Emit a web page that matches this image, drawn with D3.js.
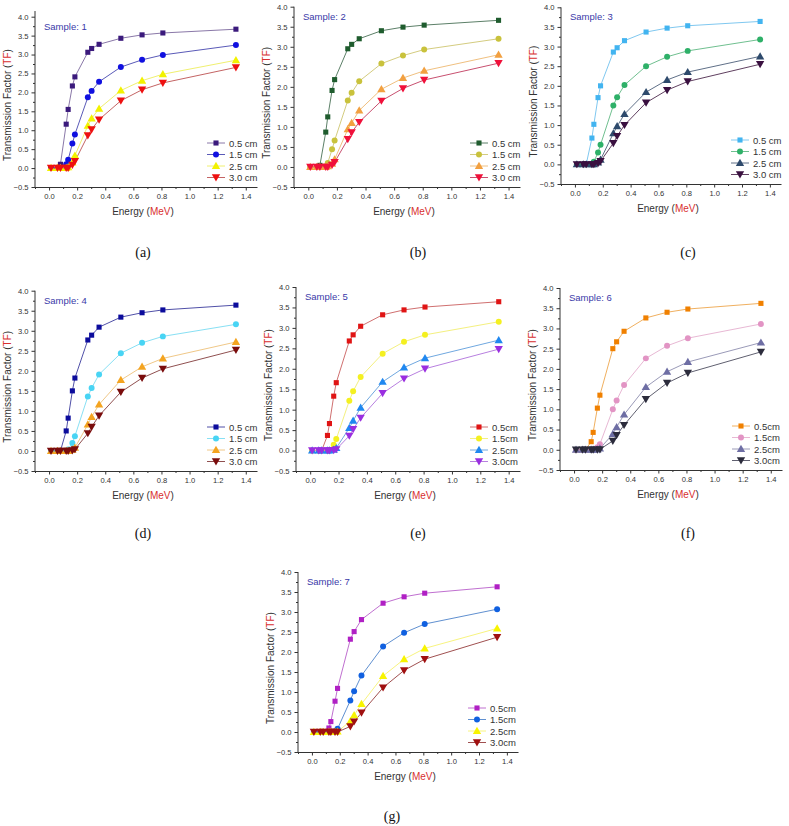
<!DOCTYPE html>
<html>
<head>
<meta charset="utf-8">
<script src="https://cdn.jsdelivr.net/npm/d3@7"></script>
<style>
html,body{margin:0;padding:0;background:#fff;}
svg{display:block;}
</style>
</head>
<body>
<svg id="chart" width="789" height="826"></svg>
<script>
// ---------- DATA ----------
const energies = [0.014, 0.06, 0.081, 0.122, 0.136, 0.166, 0.184, 0.276, 0.303, 0.356, 0.511, 0.662, 0.81, 1.33];
const xTicks = [0.0, 0.2, 0.4, 0.6, 0.8, 1.0, 1.2, 1.4];
const yTicks = [-0.5, 0.0, 0.5, 1.0, 1.5, 2.0, 2.5, 3.0, 3.5, 4.0];
const sampleNames = ["Sample: 1","Sample: 2","Sample: 3","Sample: 4","Sample: 5","Sample: 6","Sample: 7"];
const captions = ["(a)","(b)","(c)","(d)","(e)","(f)","(g)"];
const legendSpaced = ["0.5 cm","1.5 cm","2.5 cm","3.0 cm"];
const legendTight = ["0.5cm","1.5cm","2.5cm","3.0cm"];

const s1_05 = [0,0,0.10,1.16,1.55,2.17,2.41,3.06,3.16,3.27,3.43,3.52,3.57,3.67];
const s1_15 = [0,0,0,0.10,0.22,0.65,0.89,1.87,2.04,2.28,2.67,2.86,2.99,3.25];
const s1_25 = [0,0,0,0,0.02,0.15,0.33,1.12,1.31,1.57,2.05,2.31,2.48,2.85];
const s1_30 = [0,0,0,0,0,0.08,0.18,0.86,1.02,1.28,1.78,2.07,2.25,2.66];

const s2_05 = [0,0,0.04,0.87,1.25,1.91,2.18,2.95,3.06,3.20,3.40,3.49,3.54,3.66];
const s2_15 = [0,0,0,0.02,0.10,0.44,0.66,1.66,1.85,2.14,2.58,2.78,2.93,3.20];
const s2_25 = [0,0,0,0,0.02,0.08,0.19,0.94,1.10,1.41,1.94,2.22,2.40,2.80];
const s2_30 = [0,0,0,0,0,0.05,0.12,0.69,0.86,1.12,1.65,1.96,2.17,2.59];

const s3_05 = [0,0,0,0.67,1.02,1.70,2.00,2.86,2.97,3.15,3.37,3.47,3.53,3.64];
const s3_15 = [0,0,0,0,0.07,0.30,0.50,1.50,1.71,2.02,2.50,2.74,2.89,3.18];
const s3_25 = [0,0,0,0,0,0.05,0.12,0.79,0.97,1.28,1.84,2.15,2.35,2.75];
const s3_30 = [0,0,0,0,0,0.03,0.08,0.54,0.72,1.00,1.57,1.89,2.11,2.55];

const s4_05 = [0,0,0,0.50,0.82,1.50,1.82,2.77,2.89,3.09,3.34,3.45,3.52,3.64];
const s4_15 = [0,0,0,0,0.04,0.20,0.37,1.36,1.57,1.91,2.44,2.70,2.86,3.16];
const s4_25 = [0,0,0,0,0,0.03,0.08,0.66,0.85,1.16,1.77,2.10,2.31,2.72];
const s4_30 = [0,0,0,0,0,0.01,0.04,0.44,0.60,0.88,1.47,1.82,2.05,2.52];

const s5_05 = [0,0,0,0.37,0.66,1.33,1.66,2.68,2.83,3.04,3.32,3.44,3.51,3.64];
const s5_15 = [0,0,0,0,0.02,0.14,0.28,1.22,1.45,1.80,2.37,2.66,2.83,3.15];
const s5_25 = [0,0,0,0,0,0.02,0.06,0.55,0.73,1.05,1.68,2.03,2.26,2.70];
const s5_30 = [0,0,0,0,0,0.01,0.03,0.36,0.52,0.80,1.40,1.76,2.00,2.48];

const s6_05 = [0,0,0,0.20,0.43,1.03,1.35,2.50,2.67,2.93,3.26,3.40,3.48,3.62];
const s6_15 = [0,0,0,0,0.01,0.06,0.14,1.00,1.22,1.60,2.26,2.57,2.76,3.11];
const s6_25 = [0,0,0,0,0,0.01,0.03,0.39,0.56,0.87,1.55,1.93,2.17,2.65];
const s6_30 = [0,0,0,0,0,0,0.01,0.22,0.36,0.61,1.25,1.65,1.90,2.42];

const s7_05 = [0,0,0,0.10,0.26,0.77,1.09,2.32,2.51,2.81,3.22,3.38,3.47,3.63];
const s7_15 = [0,0,0,0,0,0.02,0.08,0.79,1.02,1.41,2.14,2.48,2.70,3.07];
const s7_25 = [0,0,0,0,0,0,0.01,0.27,0.42,0.70,1.40,1.82,2.09,2.59];
const s7_30 = [0,0,0,0,0,0,0,0.14,0.26,0.48,1.11,1.54,1.82,2.37];

const samples = [
  [s1_05,s1_15,s1_25,s1_30],
  [s2_05,s2_15,s2_25,s2_30],
  [s3_05,s3_15,s3_25,s3_30],
  [s4_05,s4_15,s4_25,s4_30],
  [s5_05,s5_15,s5_25,s5_30],
  [s6_05,s6_15,s6_25,s6_30],
  [s7_05,s7_15,s7_25,s7_30]
];

// ---------- STYLE / LAYOUT ----------
const palettes = [
  ["#3b1a7c","#1010e0","#f2f200","#ee1010"],
  ["#1f5c2e","#c9c23c","#f2a040","#f0103a"],
  ["#42b4f0","#2eb068","#2e4a6c","#3a1040"],
  ["#0c0c9c","#48d4f4","#f4a420","#7a0c0c"],
  ["#e01414","#f4f020","#2088f0","#9a2ee0"],
  ["#f08000","#e294c4","#6e6ea4","#2c2c3c"],
  ["#b020c4","#1060e0","#f8f400","#a01010"]
];
const lineColors = [
  ["#8a78a8","#5a5ab8","#f0f070","#c46464"],
  ["#5c8068","#d4cc80","#f0c080","#c85070"],
  ["#80c8f0","#70c090","#607088","#604060"],
  ["#5050a8","#88e0f4","#f0c888","#905050"],
  ["#d07070","#f4f080","#70a8e0","#b880e0"],
  ["#f0b060","#e8b8d4","#9a9ab8","#606070"],
  ["#c070d0","#6090d0","#f8f480","#a05050"]
];
const symbols = [d3.symbolSquare, d3.symbolCircle, d3.symbolTriangle, d3.symbolTriangle];
const symSizes = [26, 28, 30, 30];
const symRot = [0, 0, 0, 180];

// panel geometry: left/right of x-axis, y px for value 4.0, bottom y
const panels = [
  {l:35,  r:257, y4:16.7, b:187, ymax:4.15, cap:[143,252]},
  {l:294, r:520, y4:6.7,  b:187, ymax:4.0,  cap:[418,252]},
  {l:561, r:781, y4:7.3,  b:184, ymax:4.0,  cap:[688,252]},
  {l:35,  r:257, y4:290.7,b:471, ymax:4.0,  cap:[143,533]},
  {l:296, r:520, y4:287,  b:471, ymax:4.0,  cap:[418,533]},
  {l:560, r:782, y4:288,  b:470, ymax:4.0,  cap:[688,533]},
  {l:298, r:518, y4:572,  b:752, ymax:4.0,  cap:[392,816]}
];

const svg = d3.select("#chart");
const font = "Liberation Sans, Arial, sans-serif";
const axisCol = "#333";

panels.forEach((p, i) => {
  const g = svg.append("g");
  const x = d3.scaleLinear().domain([-0.1, 1.48]).range([p.l, p.r]);
  const y = d3.scaleLinear().domain([-0.5, 4.0]).range([p.b, p.y4]);
  const top = y(p.ymax);

  // minor ticks
  const xMinor = d3.range(-0.1, 1.481, 0.1).filter(v => Math.abs(Math.round(v*10) % 2) === 1);
  g.append("g").attr("transform", `translate(0,${p.b})`)
    .call(d3.axisBottom(x).tickValues(xMinor).tickSize(2).tickSizeOuter(0).tickFormat(""))
    .call(a => a.select(".domain").remove())
    .call(a => a.selectAll("line").attr("stroke", axisCol));
  const yMinor = d3.range(-0.25, 4.0, 0.5);
  g.append("g").attr("transform", `translate(${p.l},0)`)
    .call(d3.axisLeft(y).tickValues(yMinor).tickSize(2).tickSizeOuter(0).tickFormat(""))
    .call(a => a.select(".domain").remove())
    .call(a => a.selectAll("line").attr("stroke", axisCol));

  // major axes
  const xa = g.append("g").attr("transform", `translate(0,${p.b})`)
    .call(d3.axisBottom(x).tickValues(xTicks).tickSize(3.5).tickSizeOuter(0).tickPadding(3).tickFormat(d3.format(".1f")));
  const ya = g.append("g").attr("transform", `translate(${p.l},0)`)
    .call(d3.axisLeft(y).tickValues(yTicks).tickSize(3.5).tickSizeOuter(0).tickPadding(3).tickFormat(d3.format(".1f")));
  ya.select(".domain").attr("d", `M0,${p.b}V${top}`);
  [xa, ya].forEach(a => {
    a.select(".domain").attr("stroke", axisCol).attr("stroke-width", 1);
    a.selectAll("line").attr("stroke", axisCol);
    a.selectAll("text").attr("font-family", font).attr("font-size", 7.6).attr("fill", "#333");
  });

  // axis titles
  const xt = g.append("text").attr("x", (p.l + p.r) / 2 - 3).attr("y", p.b + 28)
    .attr("text-anchor", "middle").attr("font-family", font).attr("font-size", 10).attr("fill", "#333");
  xt.append("tspan").text("Energy (");
  xt.append("tspan").attr("fill", "#d83030").text("MeV");
  xt.append("tspan").text(")");

  const ycx = p.l - 24, ycy = (p.b + top) / 2 + 6;
  const yt = g.append("text").attr("transform", `translate(${ycx},${ycy}) rotate(-90)`)
    .attr("text-anchor", "middle").attr("font-family", font).attr("font-size", 10).attr("fill", "#333");
  yt.append("tspan").text("Transmission Factor (");
  yt.append("tspan").attr("fill", "#d83030").text("TF");
  yt.append("tspan").text(")");

  // sample label
  g.append("text").attr("x", p.l + 9).attr("y", y(4.0) + 13)
    .attr("font-family", font).attr("font-size", 9.5).attr("fill", "#3a3aa8").text(sampleNames[i]);

  // series
  const line = d3.line().x((d, j) => x(energies[j])).y(d => y(d));
  const series = samples[i];
  series.forEach((vals, k) => {
    g.append("path").datum(vals).attr("d", line)
      .attr("fill", "none").attr("stroke", lineColors[i][k]).attr("stroke-width", 1);
  });
  series.forEach((vals, k) => {
    const sym = d3.symbol().type(symbols[k]).size(symSizes[k]);
    g.selectAll(null).data(vals).join("path")
      .attr("d", sym)
      .attr("transform", (d, j) => `translate(${x(energies[j])},${y(d) + (k===3?-0.8:(k===2?0.6:0))}) rotate(${symRot[k]})`)
      .attr("fill", palettes[i][k]);
  });

  // legend
  const labels = i < 4 ? legendSpaced : legendTight;
  const lx = p.r - 50;
  [44, 32.5, 21, 9.5].forEach((off, k) => {
    const ly = p.b - off;
    g.append("line").attr("x1", lx).attr("x2", lx + 18).attr("y1", ly).attr("y2", ly)
      .attr("stroke", lineColors[i][k]).attr("stroke-width", 1);
    g.append("path").attr("d", d3.symbol().type(symbols[k]).size(symSizes[k]))
      .attr("transform", `translate(${lx + 9},${ly + (k===3?-0.8:(k===2?0.6:0))}) rotate(${symRot[k]})`)
      .attr("fill", palettes[i][k]);
    g.append("text").attr("x", lx + 22).attr("y", ly + 3.5)
      .attr("font-family", font).attr("font-size", 9.5).attr("fill", "#333").text(labels[k]);
  });

  // caption
  svg.append("text").attr("x", p.cap[0]).attr("y", p.cap[1] + 5)
    .attr("text-anchor", "middle").attr("font-family", "Liberation Serif, Times New Roman, serif")
    .attr("font-size", 14).attr("fill", "#111").text(captions[i]);
});
</script>
</body>
</html>
